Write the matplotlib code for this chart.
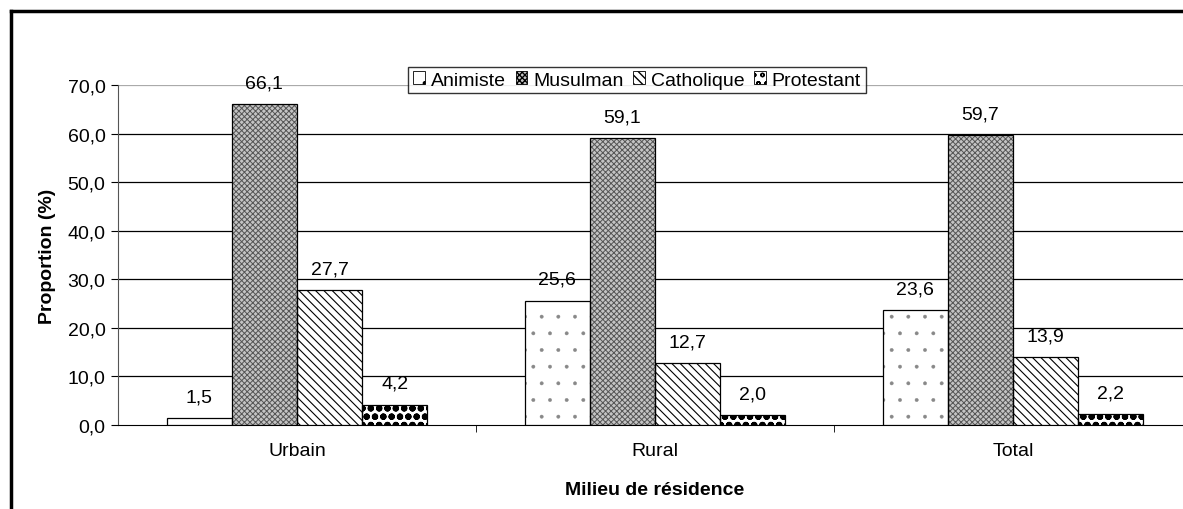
import matplotlib
matplotlib.use("Agg")
import matplotlib.pyplot as plt
import numpy as np
from matplotlib.lines import Line2D
from matplotlib.patches import Patch

# data
categories = ["Urbain", "Rural", "Total"]
series = ["Animiste", "Musulman", "Catholique", "Protestant"]
animiste = [1.5, 25.6, 23.6]
musulman = [66.1, 59.1, 59.7]
catholique = [27.7, 12.7, 13.9]
protestant = [4.2, 2.0, 2.2]
yticks = [0, 10, 20, 30, 40, 50, 60, 70]

values = [animiste, musulman, catholique, protestant]
hatches = [".", "xxxxxx", "\\\\\\\\", "oo"]
hatch_lw = [0.3, 0.7, 0.8, 2.2]
hatch_col = ["#888888", "#555555", "black", "black"]
face_col = ["white", "#c4c4c4", "white", "white"]

plt.rcParams["font.family"] = ["Liberation Sans", "DejaVu Sans"]
FS = 14

fig = plt.figure(figsize=(11.83, 5.10), dpi=100)
ax = fig.add_axes([118 / 1183, 1 - 426 / 510, 1074 / 1183, 340 / 510])

x = np.arange(len(categories))
w = 0.182
handles = []
for i, (name, vals) in enumerate(zip(series, values)):
    pos = x + (i - 1.5) * w
    # hatch layer, then a black outline on top
    with plt.rc_context({"hatch.linewidth": hatch_lw[i]}):
        ax.bar(pos, vals, w, facecolor=face_col[i], edgecolor=hatch_col[i],
               hatch=hatches[i], linewidth=0, zorder=3)
        handles.append(Patch(facecolor=face_col[i], edgecolor=hatch_col[i],
                             hatch=hatches[i], linewidth=0, label=name))
    ax.bar(pos, vals, w, fill=False, edgecolor="black", linewidth=0.9, zorder=4)
    for p, v in zip(pos, vals):
        ax.annotate(f"{v:.1f}".replace(".", ","), (p, v), xytext=(0, 12),
                    textcoords="offset points", ha="center", va="baseline",
                    fontsize=FS)

ax.set_xlim(-0.5, 2.5)
ax.set_ylim(0, 70)
ax.set_yticks(yticks)
ax.set_yticklabels([f"{t:.1f}".replace(".", ",") for t in yticks], fontsize=FS)
ax.set_xticks(x)
ax.set_xticklabels(categories, fontsize=FS)
ax.tick_params(axis="x", length=0, pad=12)
ax.set_xticks([0.5, 1.5], minor=True)
ax.tick_params(axis="x", which="minor", length=5, direction="out")
ax.tick_params(axis="y", length=5, direction="out", pad=4)

for t in yticks[1:-1]:
    ax.axhline(t, color="black", lw=0.9, zorder=1)
ax.axhline(70, color="#aaaaaa", lw=0.9, zorder=1)

for s in ["top", "right"]:
    ax.spines[s].set_visible(False)
ax.spines["left"].set_color("#555555")
ax.spines["bottom"].set_color("black")

ax.set_ylabel("Proportion (%)", fontsize=FS, fontweight="bold", labelpad=8)
ax.set_xlabel("Milieu de résidence", fontsize=FS, fontweight="bold", labelpad=16)

leg = ax.legend(handles=handles, ncol=4, loc="center",
                bbox_to_anchor=(637 / 1183, 1 - 81 / 510),
                bbox_transform=fig.transFigure, fontsize=FS, frameon=True,
                fancybox=False, edgecolor="black", handlelength=0.6,
                handleheight=0.6, handletextpad=0.3, columnspacing=0.5,
                borderpad=0.25)
leg.get_frame().set_linewidth(1.0)
for h in leg.get_patches():
    h.set_edgecolor("black")
    h.set_linewidth(0.6)

# outer chart frame (left and top edges visible)
fig.add_artist(Line2D([11 / 1183, 11 / 1183], [0, 1 - 12 / 510], color="black",
                      lw=2.5, transform=fig.transFigure))
fig.add_artist(Line2D([11 / 1183, 1], [1 - 12 / 510, 1 - 12 / 510], color="black",
                      lw=2.5, transform=fig.transFigure))

fig.savefig("out.png", dpi=100)
